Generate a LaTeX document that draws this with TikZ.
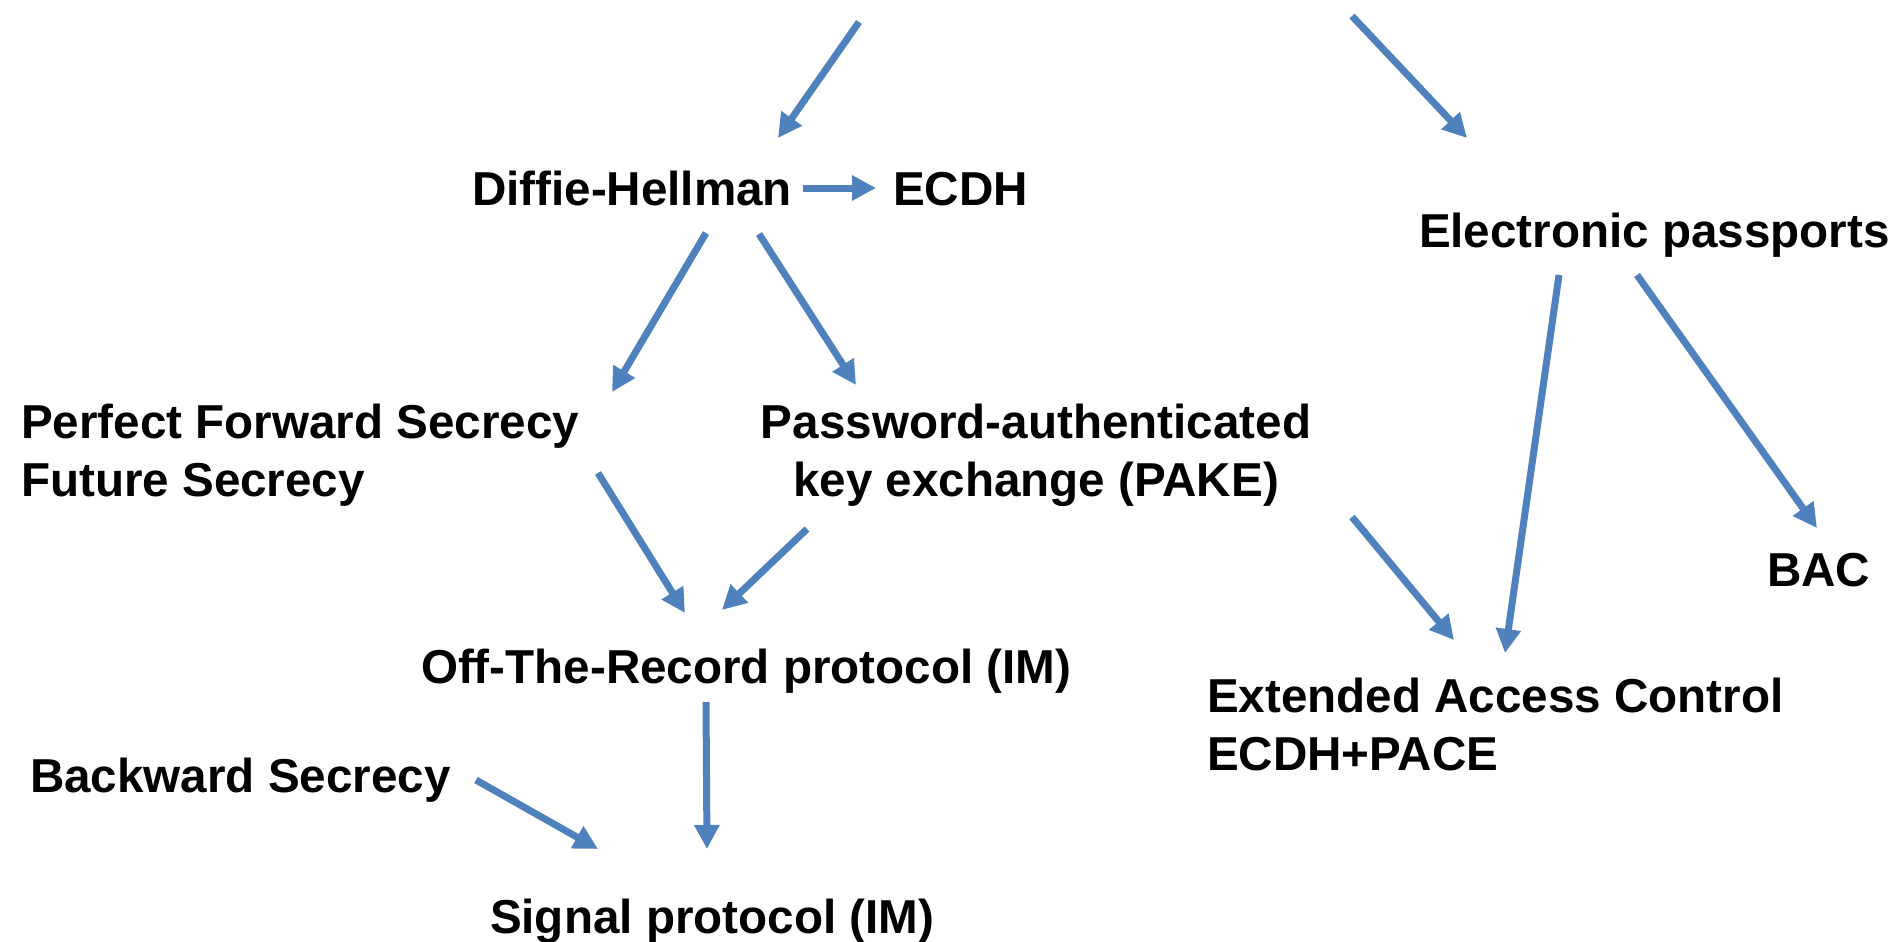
\documentclass[tikz,border=0pt]{standalone}
\usepackage{fontspec}
\setmainfont{Liberation Sans}
\usetikzlibrary{arrows.meta}
\definecolor{arrblue}{HTML}{4F81BD}
\tikzset{
  lbl/.style={inner sep=0pt, outer sep=0pt, font=\fontsize{47.6pt}{58pt}\selectfont\bfseries, text=black},
  arr/.style={draw=arrblue, line width=7pt, -{Triangle[length=24pt,width=24pt]}, arrblue}
}
\begin{document}
\begin{tikzpicture}[x=1pt,y=-1pt]
\useasboundingbox[fill=white] (0,0) rectangle (1898,942);
% nodes (base anchor of two-line nodes = last line)
\node[lbl, anchor=base west] (dh) at (472,205) {Diffie-Hellman};
\node[lbl, anchor=base west] (ecdh) at (893,205) {ECDH};
\node[lbl, anchor=base west] (ep) at (1419,247) {Electronic passports};
\node[lbl, anchor=base west, align=left] (pfs) at (21,496) {Perfect Forward Secrecy\\Future Secrecy};
\node[lbl, anchor=base, align=center] (pake) at (1036,496) {Password-authenticated\\key exchange (PAKE)};
\node[lbl, anchor=base west] (bac) at (1767,586) {BAC};
\node[lbl, anchor=base west] (otr) at (421,683) {Off-The-Record protocol (IM)};
\node[lbl, anchor=base west, align=left] (eac) at (1207,770) {Extended Access Control\\ECDH+PACE};
\node[lbl, anchor=base west] (bs) at (30,792) {Backward Secrecy};
\node[lbl, anchor=base west] (sig) at (490,933) {Signal protocol (IM)};
\coordinate (top1) at (859,22);
\coordinate (top2) at (1352,16);
% connectors
\draw[arr] (top1) -- ([shift={(306,-67)}]dh.base west);
\draw[arr] (top2) -- ([shift={(48,-109)}]ep.base west);
\draw[arr] ([shift={(331,-17)}]dh.base west) -- ([shift={(-17,-17)}]ecdh.base west);
\draw[arr] ([shift={(234,28)}]dh.base west) -- ([shift={(591,-104)}]pfs.base west);
\draw[arr] ([shift={(287,29)}]dh.base west) -- ([shift={(-180,-111)}]pake.base);
\draw[arr] ([shift={(577,-23)}]pfs.base west) -- ([shift={(264,-70)}]otr.base west);
\draw[arr] ([shift={(-229,33)}]pake.base) -- ([shift={(301,-73)}]otr.base west);
\draw[arr] ([shift={(285,19)}]otr.base west) -- ([shift={(217,-84)}]sig.base west);
\draw[arr] ([shift={(446,-12)}]bs.base west) -- ([shift={(108,-84)}]sig.base west);
\draw[arr] ([shift={(316,21)}]pake.base) -- ([shift={(247,-130)}]eac.base west);
\draw[arr] ([shift={(140,28)}]ep.base west) -- ([shift={(298,-117)}]eac.base west);
\draw[arr] ([shift={(218,28)}]ep.base west) -- ([shift={(50,-58)}]bac.base west);
\end{tikzpicture}
\end{document}
